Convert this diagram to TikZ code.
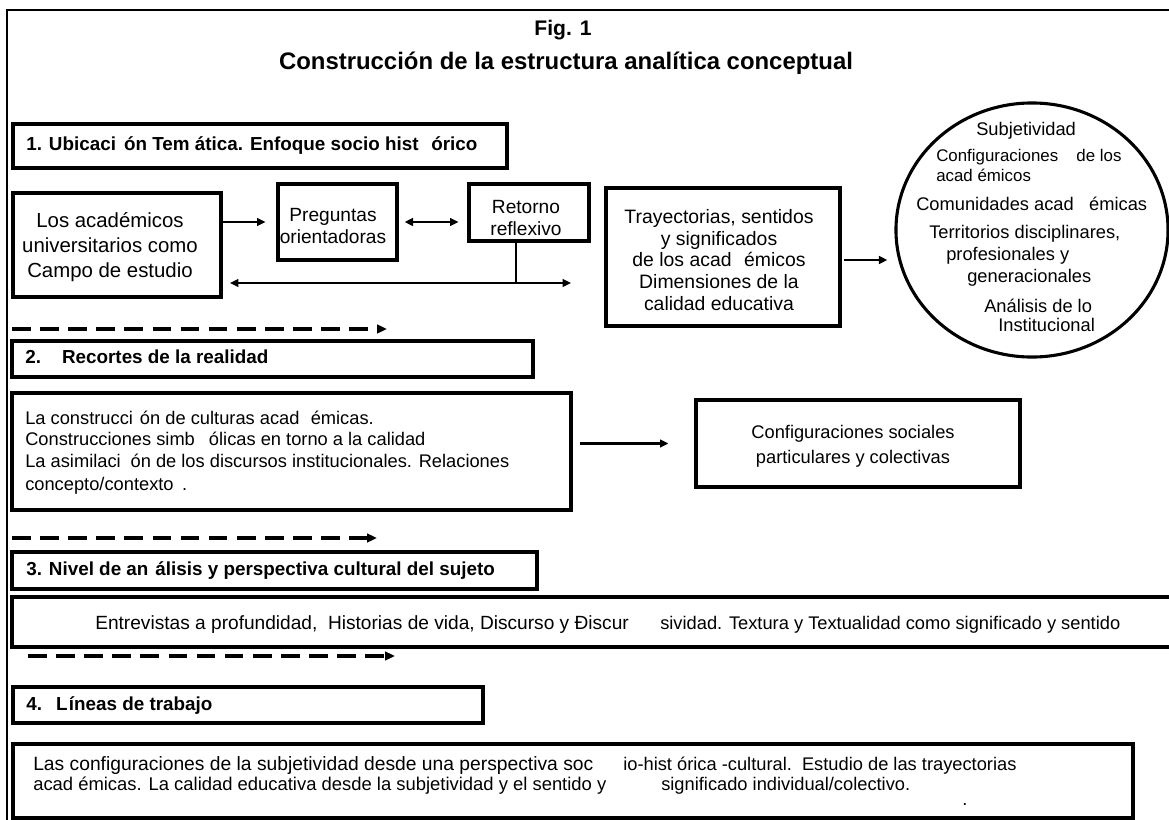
\documentclass[tikz,border=0pt]{standalone}
\usepackage{fontspec}
\setmainfont{Liberation Sans}
\usetikzlibrary{arrows.meta,fit,shapes.geometric}
\tikzset{
  box/.style={draw, line width=2.2pt, inner sep=0pt},
  hbox/.style={draw, line width=2.6pt, inner sep=0pt},
  frame/.style={line width=1.2pt},
  txt/.style={inner sep=0pt, font=\fontsize{13}{15.6}\selectfont},
  ctxt/.style={inner sep=0pt, align=center},
  smalltxt/.style={inner sep=0pt, font=\fontsize{12}{14}\selectfont},
  btxt/.style={inner sep=0pt, font=\bfseries\fontsize{13.4}{16}\selectfont},
  arr/.style={line width=1.8pt, -{Triangle[length=6pt,width=5.5pt]}},
  darr/.style={line width=1.8pt, {Triangle[length=6pt,width=5.5pt]}-{Triangle[length=6pt,width=5.5pt]}},
  plain/.style={line width=1.8pt},
  dasharr/.style={line width=2.2pt, dash pattern=on 13.2pt off 6.8pt, -{Triangle[length=7pt,width=6pt]}},
}
\begin{document}
\begin{tikzpicture}[x=0.025cm,y=-0.025cm]
\useasboundingbox (0,0) rectangle (1169,820);
% outer frame
\draw[frame] (7,820) -- (7,10) -- (1169,10);
% title
\node[inner sep=0pt, font=\bfseries\fontsize{15}{18}\selectfont] (fig) at (563,30) {Fig. 1};
\node[inner sep=0pt, font=\bfseries\fontsize{17}{20}\selectfont] (title) at (566,63) {Construcción de la estructura analítica conceptual};

% section 1
\node[hbox, fit={(13,124) (507,168)}] (h1) {};
\node[btxt, anchor=mid west] (h1t) at (26,147) {1. Ubicaci\hspace{2pt} ón Tem ática. Enfoque socio hist\hspace{9pt}órico};

\node[box, fit={(13,193) (221,297)}] (los) {};
\node[ctxt, font=\fontsize{14.5}{17.6}\selectfont] (lost) at (110,247) {Los académicos\\universitarios como\\Campo de estudio};

\node[box, fit={(278,184) (397,260)}] (preg) {};
\node[ctxt, font=\fontsize{13.6}{15.6}\selectfont] (pregt) at (333,226) {Preguntas\\orientadoras};

\node[box, fit={(469,184) (589,241)}] (ret) {};
\node[ctxt, font=\fontsize{13.6}{15.6}\selectfont] (rett) at (526,218) {Retorno\\reflexivo};

\draw[arr, shorten >=7.8pt] (los.east |- preg.west) -- (preg.west);
\draw[darr, shorten <=4.3pt, shorten >=6.4pt] (preg.east) -- (preg.east -| ret.west);
\coordinate (hj) at (516,283);
\coordinate (hl) at (230,283);
\coordinate (hr) at (571,283);
\draw[plain] (ret.south -| hj) -- (hj);
\draw[darr] (hl) -- (hr);

\node[box, fit={(606,188) (840,326)}] (tray) {};
\node[ctxt, font=\fontsize{13.8}{15.4}\selectfont] (trayt) at (719,260) {Trayectorias, sentidos\\y significados\\de los acad\hspace{5pt} émicos\\Dimensiones de la\\calidad educativa};

\node[draw, ellipse, line width=2.2pt, inner sep=0pt, minimum width=6.8cm, minimum height=6.35cm] (circ) at (1032,230) {};
\draw[arr, shorten <=2pt, shorten >=5pt] (tray.east |- 0,260) -- (circ.west |- 0,260);

\node[txt, anchor=mid west] (c1) at (976,132) {Subjetividad};
\node[smalltxt, anchor=mid west] (c2) at (936,158) {Configuraciones\hspace{13pt}de los};
\node[smalltxt, anchor=mid west] (c3) at (936,178) {acad émicos};
\node[txt, anchor=mid west] (c4) at (916,207) {Comunidades acad\hspace{11pt}émicas};
\node[txt, anchor=mid west] (c5) at (929,235) {Territorios disciplinares,};
\node[txt, anchor=mid west] (c6) at (946,257) {profesionales y};
\node[txt, anchor=mid west] (c7) at (967,279) {generacionales};
\node[txt, anchor=mid west] (c8) at (984,309) {Análisis de lo};
\node[txt, anchor=mid west] (c9) at (998,328) {Institucional};

% section 2
\coordinate (d1s) at (12,329);
\coordinate (d1e) at (387,329);
\draw[dasharr] (d1s) -- (d1e);

\node[hbox, fit={(12,341) (533,377)}] (h2) {};
\node[btxt, anchor=mid west] (h2t) at (25,360) {2.\hspace{15pt}Recortes de la realidad};

\node[box, fit={(12,393) (571,510)}] (b2) {};
\node[txt, anchor=mid west] (b2a) at (25,421) {La construcci\hspace{5pt}ón de culturas acad\hspace{8pt}émicas.};
\node[txt, anchor=mid west] (b2b) at (25,442) {Construcciones simb\hspace{10pt}ólicas en torno a la calidad};
\node[txt, anchor=mid west] (b2c) at (25,464) {La asimilaci\hspace{7pt}ón de los discursos institucionales. Relaciones};
\node[txt, anchor=mid west] (b2d) at (25,487) {concepto/contexto\hspace{6pt}.};

\node[box, fit={(696,400) (1020,487)}] (conf) {};
\node[ctxt, font=\fontsize{13}{17.8}\selectfont] (conft) at (853,446) {Configuraciones sociales\\particulares y colectivas};
\draw[arr, shorten <=5pt, shorten >=18.5pt] (b2.east |- conf.west) -- (conf.west);

\coordinate (d2s) at (12,538);
\coordinate (d2e) at (377,538);
\draw[dasharr] (d2s) -- (d2e);

% section 3
\node[hbox, fit={(12,552) (537,589)}] (h3) {};
\node[btxt, anchor=mid west] (h3t) at (26,572) {3. Nivel de an\hspace{5pt}álisis y perspectiva cultural del sujeto};

\node[hbox, fit={(12,597) (1185,647)}] (b3) {};
\node[txt, anchor=mid west, font=\fontsize{13.6}{15.6}\selectfont] (b3a) at (95,626) {Entrevistas a profundidad,\ \ Historias de vida, Discurso y Điscur};
\node[txt, anchor=mid west] (b3b) at (660,626) {sividad. Textura y Textualidad como significado y sentido};

\coordinate (d3s) at (28,656);
\coordinate (d3e) at (395,656);
\draw[dasharr] (d3s) -- (d3e);

% section 4
\node[hbox, fit={(13,687) (483,723)}] (h4) {};
\node[btxt, anchor=mid west] (h4t) at (26,707) {4.\hspace{10pt}L\hspace{1pt}íneas de trabajo};

\node[hbox, fit={(13,744) (1133,818)}] (b4) {};
\node[txt, anchor=mid west, font=\fontsize{13.7}{15.6}\selectfont] (b4a) at (33,767) {Las configuraciones de la subjetividad desde una perspectiva soc};
\node[txt, anchor=mid west] (b4b) at (623,767) {io-hist órica -cultural.\ \ Estudio de las trayectorias};
\node[txt, anchor=mid west, font=\fontsize{13.1}{15.6}\selectfont] (b4c) at (33,787) {acad émicas. La calidad educativa desde la subjetividad y el sentido y};
\node[txt, anchor=mid west] (b4d) at (661,787) {significado individual/colectivo.};
\node[txt, anchor=mid west] (b4e) at (962,802) {.};
\end{tikzpicture}
\end{document}
